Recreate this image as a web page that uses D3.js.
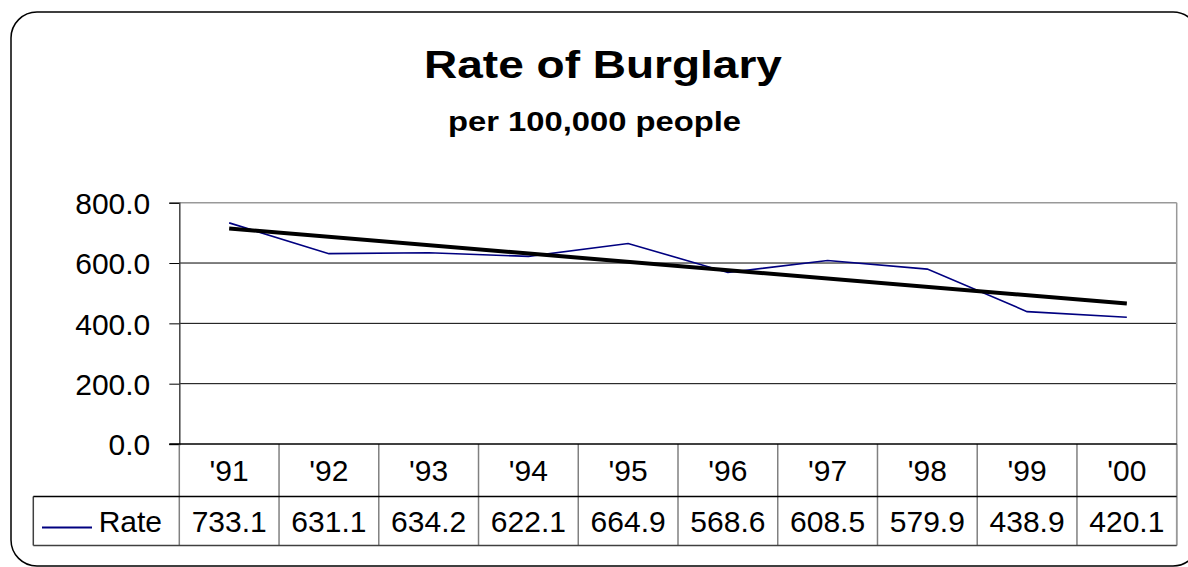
<!DOCTYPE html>
<html><head><meta charset="utf-8">
<script src="https://cdn.jsdelivr.net/npm/d3@7"></script>
<style>html,body{margin:0;padding:0;background:#fff;}svg{display:block;}</style>
</head><body>
<svg id="chart" width="1188" height="567"></svg>
<script>
const categories = ["'91","'92","'93","'94","'95","'96","'97","'98","'99","'00"];
const rateValues = [733.1,631.1,634.2,622.1,664.9,568.6,608.5,579.9,438.9,420.1];
const yTicks = [0,200,400,600,800];
const seriesName = "Rate";
const titleText = "Rate of Burglary";
const subtitleText = "per 100,000 people";

const svg = d3.select("#chart");
const font = "'Liberation Sans', Arial, sans-serif";

// frame
svg.append("rect").attr("x",11).attr("y",12).attr("width",1188).attr("height",554)
  .attr("rx",26).attr("ry",26).attr("fill","#fff").attr("stroke","#000").attr("stroke-width",1.5);

// titles
svg.append("text").attr("transform","translate(603,78) scale(1.18,1)")
  .attr("text-anchor","middle").attr("font-family",font).attr("font-weight","bold")
  .attr("font-size",39).text(titleText);
svg.append("text").attr("transform","translate(594.5,131) scale(1.17,1)")
  .attr("text-anchor","middle").attr("font-family",font).attr("font-weight","bold")
  .attr("font-size",28).text(subtitleText);

const L = 179.3, R = 1176.7, T = 202.7, B = 444;
const x = d3.scaleBand().domain(categories).range([L,R]);
const y = d3.scaleLinear().domain([0,800]).range([B,T]);

// gridlines
svg.append("g").selectAll("line").data(yTicks.filter(d=>d>0&&d<800)).join("line")
  .attr("x1",L).attr("x2",R).attr("y1",d=>y(d)).attr("y2",d=>y(d))
  .attr("stroke","#000").attr("stroke-width",1);
// plot border top
svg.append("line").attr("x1",L).attr("x2",R).attr("y1",T).attr("y2",T).attr("stroke","#999").attr("stroke-width",1.5);

// y axis
const yAxis = d3.axisLeft(y).tickValues(yTicks).tickSize(10).tickPadding(19).tickFormat(d3.format(".1f"));
const ya = svg.append("g").attr("transform",`translate(${L},0)`).call(yAxis);
ya.select(".domain").attr("stroke","#444").attr("stroke-width",1.5);
ya.selectAll(".tick line").attr("stroke","#000");
ya.selectAll(".tick text").attr("font-family",font).attr("font-size",30).attr("fill","#000").attr("dy","0.36em");

// data table
const rowTop = 444, rowMid = 496.5, rowBot = 545.5, tblLeft = 33.3;
const edges = categories.map(c=>x(c)).concat([R]);
svg.append("g").selectAll("line").data(edges).join("line")
  .attr("x1",d=>d).attr("x2",d=>d).attr("y1",rowTop).attr("y2",rowBot)
  .attr("stroke","#808080").attr("stroke-width",1.5);
svg.append("line").attr("x1",R).attr("x2",R).attr("y1",T).attr("y2",rowBot).attr("stroke","#999").attr("stroke-width",1.5);
svg.append("line").attr("x1",tblLeft).attr("x2",tblLeft).attr("y1",rowMid).attr("y2",rowBot).attr("stroke","#404040").attr("stroke-width",1.5);
svg.append("line").attr("x1",L-10).attr("x2",R).attr("y1",rowTop).attr("y2",rowTop).attr("stroke","#000").attr("stroke-width",1.5);
svg.append("line").attr("x1",tblLeft).attr("x2",R).attr("y1",rowMid).attr("y2",rowMid).attr("stroke","#000").attr("stroke-width",1.5);
svg.append("line").attr("x1",tblLeft).attr("x2",R).attr("y1",rowBot).attr("y2",rowBot).attr("stroke","#404040").attr("stroke-width",1.5);

svg.append("g").selectAll("text").data(categories).join("text")
  .attr("x",d=>x(d)+x.bandwidth()/2).attr("y",(rowTop+rowMid)/2).attr("dy","0.36em")
  .attr("text-anchor","middle").attr("font-family",font).attr("font-size",30).text(d=>d);
svg.append("g").selectAll("text").data(rateValues).join("text")
  .attr("x",(d,i)=>x(categories[i])+x.bandwidth()/2).attr("y",(rowMid+rowBot)/2).attr("dy","0.36em")
  .attr("text-anchor","middle").attr("font-family",font).attr("font-size",30).text(d=>d3.format(".1f")(d));
svg.append("line").attr("x1",42).attr("x2",92).attr("y1",527.5).attr("y2",527.5).attr("stroke","#000080").attr("stroke-width",1.8);
svg.append("text").attr("x",162).attr("y",(rowMid+rowBot)/2).attr("dy","0.36em").attr("text-anchor","end")
  .attr("font-family",font).attr("font-size",30).text(seriesName);

// series line
const pts = rateValues.map((v,i)=>[x(categories[i])+x.bandwidth()/2, y(v)]);
svg.append("path").attr("d",d3.line()(pts)).attr("fill","none").attr("stroke","#000080").attr("stroke-width",1.6);

// linear trendline (least squares over the series)
const n = rateValues.length;
const xs = d3.range(1,n+1);
const mx = d3.mean(xs), my = d3.mean(rateValues);
const slope = d3.sum(xs.map((xi,i)=>(xi-mx)*(rateValues[i]-my))) / d3.sum(xs.map(xi=>(xi-mx)**2));
const icpt = my - slope*mx;
const tpts = [[x(categories[0])+x.bandwidth()/2, y(icpt+slope*1)],[x(categories[n-1])+x.bandwidth()/2, y(icpt+slope*n)]];
svg.append("path").attr("d",d3.line()(tpts)).attr("fill","none").attr("stroke","#000").attr("stroke-width",4);
</script>
</body></html>
